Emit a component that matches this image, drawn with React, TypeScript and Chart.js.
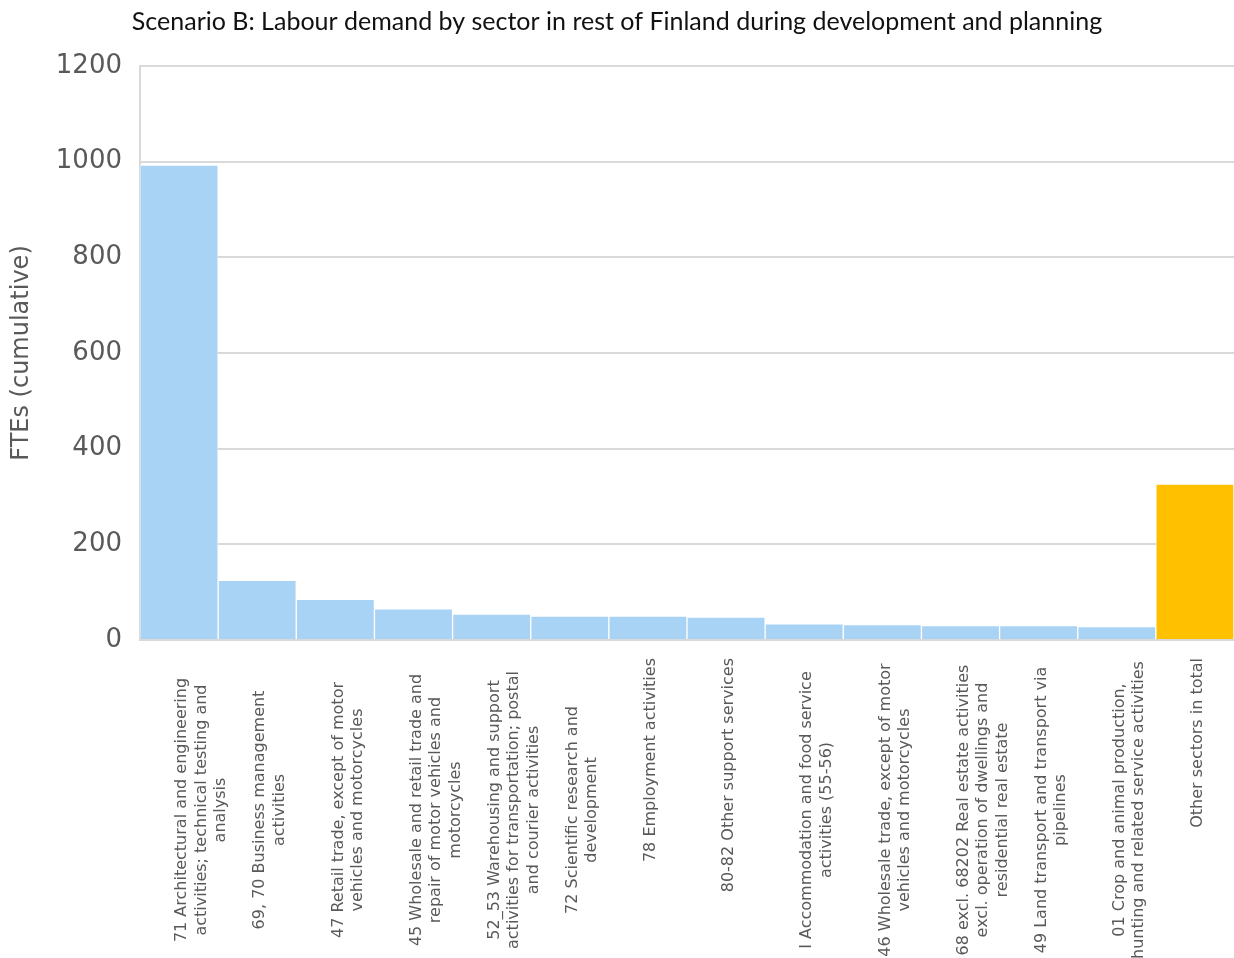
import React, { useEffect, useRef } from "react";
import { Chart, registerables } from "chart.js";

Chart.register(...registerables);

const chartTitle =
  "Scenario B: Labour demand by sector in rest of Finland during development and planning";
const yAxisTitle = "FTEs (cumulative)";

const sectorLabels: string[][] = [
  ["71 Architectural and engineering", "activities; technical testing and", "analysis"],
  ["69, 70 Business management", "activities"],
  ["47 Retail trade, except of motor", "vehicles and motorcycles"],
  ["45 Wholesale and retail trade and", "repair of motor vehicles and", "motorcycles"],
  ["52_53 Warehousing and support", "activities for transportation; postal", "and courier activities"],
  ["72 Scientific research and", "development"],
  ["78 Employment activities"],
  ["80-82 Other support services"],
  ["I Accommodation and food service", "activities (55-56)"],
  ["46 Wholesale trade, except of motor", "vehicles and motorcycles"],
  ["68 excl. 68202 Real estate activities", "excl. operation of dwellings and", "residential real estate"],
  ["49 Land transport and transport via", "pipelines"],
  ["01 Crop and animal production,", "hunting and related service activities"],
  ["Other sectors in total"],
];

const fteValues: number[] = [993, 125, 85, 65, 54, 50, 50, 48, 34, 32, 30, 30, 28, 326];

const yTickValues: number[] = [0, 200, 400, 600, 800, 1000, 1200];

const BLUE = "#a9d3f4";
const ORANGE = "#ffc000";
const GRID = "#d9d9d9";
const TEXT = "#595959";
const FONT = "'DejaVu Sans', Verdana, sans-serif";

const xLabelPlugin = {
  id: "xLabelsCentered",
  afterDraw(chart: any) {
    const xs = chart.scales.x;
    const ctx = chart.ctx as CanvasRenderingContext2D;
    const bottom = chart.chartArea.bottom;
    ctx.save();
    ctx.font = `16px ${FONT}`;
    ctx.fillStyle = TEXT;
    ctx.textBaseline = "middle";
    sectorLabels.forEach((lines, i) => {
      const cx = xs.getPixelForValue(i);
      lines.forEach((line, k) => {
        ctx.save();
        ctx.translate(cx + 3 + k * 19.5, 0);
        ctx.rotate(-Math.PI / 2);
        if (lines.length === 1) {
          ctx.textAlign = "right";
          ctx.fillText(line, -(bottom + 18), 0);
        } else {
          ctx.textAlign = "center";
          ctx.fillText(line, -(bottom + 170), 0);
        }
        ctx.restore();
      });
    });
    ctx.restore();
  },
};

export default function App() {
  const canvasRef = useRef<HTMLCanvasElement | null>(null);

  useEffect(() => {
    if (!canvasRef.current) return;
    const chart = new Chart(canvasRef.current, {
      type: "bar",
      data: {
        labels: sectorLabels.map((l) => l.join(" ")),
        datasets: [
          {
            data: fteValues,
            backgroundColor: fteValues.map((_, i) => (i === fteValues.length - 1 ? ORANGE : BLUE)),
            borderColor: "rgba(255,255,255,0.5)",
            borderWidth: 1,
            borderSkipped: "bottom",
            barPercentage: 1,
            categoryPercentage: 1,
          },
        ],
      },
      options: {
        responsive: false,
        animation: false,
        layout: { padding: { left: 0, right: 0, top: 0, bottom: 0 } },
        plugins: {
          legend: { display: false },
          tooltip: { enabled: false },
          title: {
            display: true,
            text: chartTitle,
            color: "#111111",
            font: { family: "Lato, 'Open Sans', sans-serif", size: 25, weight: "normal" },
            padding: { top: 7, bottom: 29 },
          },
        },
        scales: {
          x: {
            grid: { display: false, drawTicks: false },
            border: { display: true, color: GRID, width: 2 },
            ticks: { display: false },
            afterFit: (scale: any) => {
              scale.height = 318;
            },
          },
          y: {
            min: 0,
            max: 1200,
            afterBuildTicks: (scale: any) => {
              scale.ticks = yTickValues.map((v) => ({ value: v }));
            },
            afterFit: (scale: any) => {
              scale.width = 140;
            },
            grid: { color: GRID, lineWidth: 2, drawTicks: false },
            border: { display: true, color: GRID, width: 2 },
            ticks: {
              color: TEXT,
              font: { family: FONT, size: 26 },
              padding: 18,
              callback: (v: any) => String(v),
            },
            title: {
              display: true,
              text: yAxisTitle,
              color: TEXT,
              font: { family: FONT, size: 24 },
              padding: { top: 7, bottom: 0 },
            },
          },
        },
      },
      plugins: [xLabelPlugin],
    });
    return () => chart.destroy();
  }, []);

  return (
    <div style={{ position: "fixed", left: 0, top: 0, width: 1234, height: 958, background: "#fff" }}>
      <canvas ref={canvasRef} width={1234} height={958} />
    </div>
  );
}
